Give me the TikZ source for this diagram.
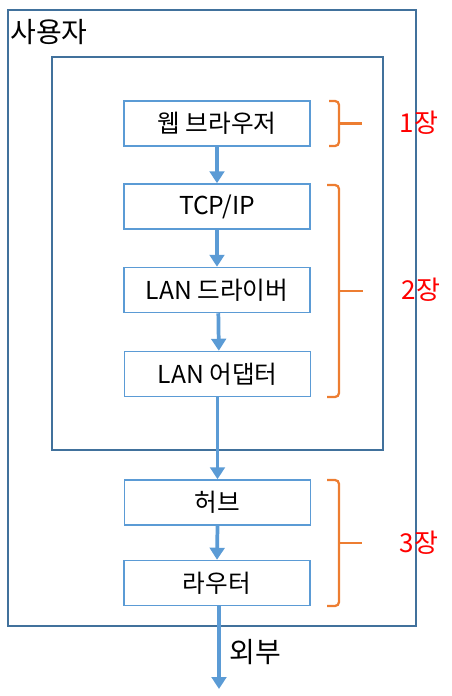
\documentclass[tikz,border=0pt]{standalone}
\usepackage{fontspec}
\setmainfont{Noto Sans CJK KR}
\usetikzlibrary{arrows.meta}
\definecolor{frameblue}{HTML}{41719C}
\definecolor{boxblue}{HTML}{5B9BD5}
\definecolor{braceorange}{HTML}{ED7D31}
\tikzset{
  layer/.style={draw=boxblue, line width=1.5pt*0.75, minimum width=139.5pt, minimum height=33.75pt, inner sep=0pt, font=\fontsize{18.5}{20}\selectfont},
  flow/.style={draw=boxblue, line width=2.8pt, -{Triangle[width=11pt,length=9pt]}},
  chbrace/.style={draw=braceorange, line width=1.7pt, rounded corners=3pt},
  chap/.style={text=red, inner sep=0pt, font=\fontsize{19.5}{21}\selectfont}
}
\begin{document}
\begin{tikzpicture}[x=0.75pt, y=-0.75pt]
  \useasboundingbox (0,0) rectangle (451,696);
  % frames
  \draw [frameblue, line width=1.5pt] (8,10) rectangle (416,626);
  \draw [frameblue, line width=1.5pt] (52,57) rectangle (383,450);
  \node [anchor=west, inner sep=0pt, font=\fontsize{21}{23}\selectfont] (user) at (10,32) {사용자};
  % layers
  \node [layer] (web) at (217,123.5) {웹 브라우저};
  \node [layer] (tcp) at (217,206.5) {TCP/IP};
  \node [layer] (drv) at (217,290) {LAN 드라이버};
  \node [layer] (adp) at (217.5,374) {LAN 어댑터};
  \node [layer] (hub) at (217.5,502.5) {허브};
  \node [layer] (rtr) at (217,583) {라우터};
  \coordinate (ext) at (219,689);
  \draw [flow] (web.south) -- (tcp.north);
  \draw [flow] (tcp.south) -- (drv.north);
  \draw [flow] ([xshift=1pt]drv.south) -- ([xshift=1pt]adp.north);
  \draw [flow] (adp.south) -- (hub.north);
  \draw [flow] (hub.south) -- (rtr.north);
  \draw [flow] ([xshift=1.5pt]rtr.south) -- (ext);
  \node [anchor=west, inner sep=0pt, font=\fontsize{21}{23}\selectfont] (extlabel) at (229,652) {외부};
  % braces
  \draw [chbrace] (329,101) -| (339,146) -- (329,146);
  \draw [braceorange, line width=1.7pt] (339,123.5) -- (362,123.5);
  \draw [chbrace] (327,185) -| (339,397) -- (327,397);
  \draw [braceorange, line width=1.7pt] (339,291) -- (363,291);
  \draw [chbrace] (327,480) -| (339,606) -- (327,606);
  \draw [braceorange, line width=1.7pt] (339,543) -- (362,543);
  \node [chap] (ch1) at (419,123) {1장};
  \node [chap] (ch2) at (421,290) {2장};
  \node [chap] (ch3) at (419,543) {3장};
\end{tikzpicture}
\end{document}
